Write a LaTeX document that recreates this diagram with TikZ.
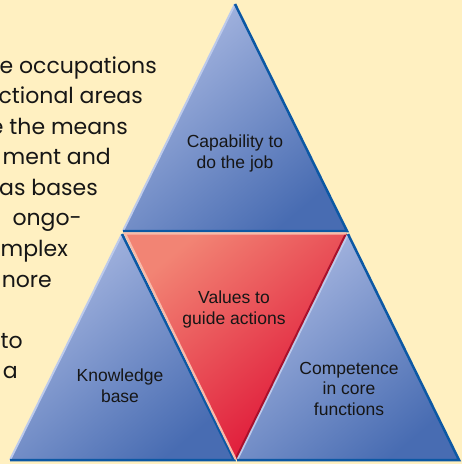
\documentclass[tikz,border=0pt]{standalone}
\usepackage{fontspec}
\setmainfont{Liberation Sans}
\newfontfamily\bodyfont{Poppins}
\definecolor{bg}{RGB}{255,240,193}
\definecolor{bluelight}{RGB}{170,185,226}
\definecolor{bluedark}{RGB}{72,108,178}
\definecolor{blueedge}{RGB}{12,88,164}
\definecolor{bluehi}{RGB}{188,202,236}
\definecolor{redlight}{RGB}{242,132,116}
\definecolor{reddark}{RGB}{222,16,52}
\definecolor{rededge}{RGB}{168,16,44}
\definecolor{redhi}{RGB}{248,186,170}
\definecolor{ink}{RGB}{22,22,22}
\tikzset{
  bodytext/.style={font=\bodyfont\fontsize{22}{26}\selectfont, text=ink, inner sep=0pt, anchor=base east},
  lab/.style={font=\fontsize{17.5}{20.5}\selectfont, text=ink, align=center, inner sep=0pt, anchor=base},
  blueshade/.style={top color=bluelight, bottom color=bluedark, shading angle=40},
  redshade/.style={top color=redlight, bottom color=reddark, shading angle=40},
  bdark/.style={draw=blueedge, line width=2.5pt, line cap=butt, line join=miter},
  bhi/.style={draw=bluehi, line width=2pt, line cap=butt},
  rdark/.style={draw=rededge, line width=2pt, line cap=butt},
  rhi/.style={draw=redhi, line width=2.2pt, line cap=butt, line join=miter}
}
\begin{document}
\begin{tikzpicture}[x=1pt,y=-1pt]
\useasboundingbox (0,0) rectangle (462,464);
\fill[bg] (0,0) rectangle (462,464);
\begin{scope}
\clip (0,0) rectangle (462,464);
\node[bodytext] (l1) at (157,73) {e occupations};
\node[bodytext] (l2) at (143,103) {ctional areas};
\node[bodytext] (l3) at (128,134) {e the means};
\node[bodytext] (l4) at (111,164) {ment and};
\node[bodytext] (l5) at (98,195) {as bases};
\node[bodytext] (l6) at (82,225) {ongo-};
\node[bodytext] (l7) at (68,256) {mplex};
\node[bodytext] (l8) at (52,287) {nore};
\node[bodytext] (l9) at (23,348) {to};
\node[bodytext] (l10) at (18,378) {a};
\end{scope}
% top triangle
\coordinate (TA) at (235,4);
\coordinate (TB) at (123,231);
\coordinate (TC) at (347,231);
% bottom-left triangle
\coordinate (LA) at (122,234);
\coordinate (LB) at (10,460);
\coordinate (LC) at (234,460);
% bottom-right triangle
\coordinate (RA) at (348,234);
\coordinate (RB) at (237,460);
\coordinate (RC) at (459,460);
% red triangle
\coordinate (VA) at (125,233.5);
\coordinate (VB) at (346,233.5);
\coordinate (VC) at (235.5,459);
\shade[blueshade] (TA) -- (TB) -- (TC) -- cycle;
\shade[blueshade] (LA) -- (LB) -- (LC) -- cycle;
\shade[blueshade] (RA) -- (RB) -- (RC) -- cycle;
\shade[redshade] (VA) -- (VB) -- (VC) -- cycle;
\draw[bhi] (TB) -- (TA);
\draw[bdark] (TA) -- (TC) -- (TB);
\draw[bhi] (LB) -- (LA);
\draw[bdark] (LA) -- (LC) -- (LB);
\draw[bhi] (RB) -- (RA);
\draw[bdark] (RA) -- (RC) -- (RB);
\draw[rdark] (VB) -- (VC);
\draw[rhi] (VC) -- (VA) -- (VB);
\node[lab] (cap) at (235,168) {Capability to\\do the job};
\node[lab] (val) at (234,324) {Values to\\guide actions};
\node[lab] (kno) at (120,402) {Knowledge\\base};
\node[lab] (com) at (349,415) {Competence\\in core\\functions};
\end{tikzpicture}
\end{document}
